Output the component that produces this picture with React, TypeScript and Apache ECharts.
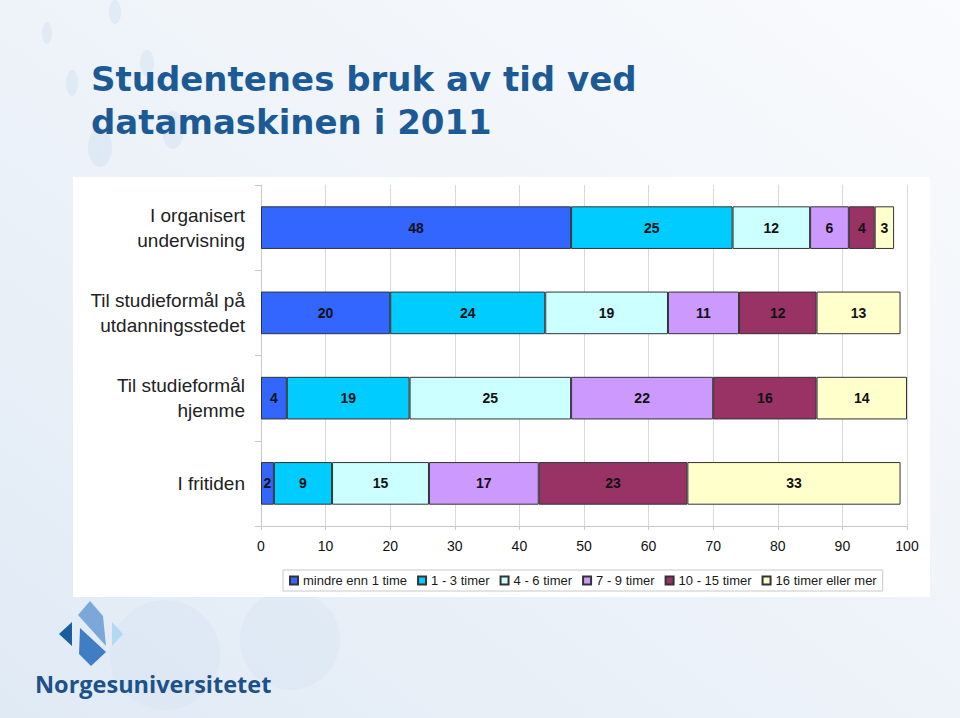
import React, { useEffect, useRef } from "react";
import * as echarts from "echarts";

const categories = [
  "I organisert\nundervisning",
  "Til studieformål på\nutdanningsstedet",
  "Til studieformål\nhjemme",
  "I fritiden",
];

const seriesNames = [
  "mindre enn 1 time",
  "1 - 3 timer",
  "4 - 6 timer",
  "7 - 9 timer",
  "10 - 15 timer",
  "16 timer eller mer",
];

const lessThan1 = [48, 20, 4, 2];
const h1to3 = [25, 24, 19, 9];
const h4to6 = [12, 19, 25, 15];
const h7to9 = [6, 11, 22, 17];
const h10to15 = [4, 12, 16, 23];
const h16plus = [3, 13, 14, 33];

const xTicks = [0, 10, 20, 30, 40, 50, 60, 70, 80, 90, 100];

const colors = ["#3366FF", "#00CCFF", "#CCFFFF", "#CC99FF", "#993366", "#FFFFCC"];

const titleText = "Studentenes bruk av tid ved\ndatamaskinen i 2011";
const logoText = "Norgesuniversitetet";

export default function App() {
  const ref = useRef<HTMLDivElement>(null);

  useEffect(() => {
    if (!ref.current) return;
    const chart = echarts.init(ref.current, null, { renderer: "svg" });
    const values = [lessThan1, h1to3, h4to6, h7to9, h10to15, h16plus];

    const bgEllipses = [
      { cx: 47, cy: 33, rx: 5, ry: 11 },
      { cx: 115, cy: 12, rx: 6, ry: 12 },
      { cx: 147, cy: 63, rx: 7, ry: 13 },
      { cx: 72, cy: 83, rx: 6, ry: 13 },
      { cx: 100, cy: 147, rx: 12, ry: 20 },
      { cx: 173, cy: 130, rx: 11, ry: 19 },
    ];

    chart.setOption({
      animation: false,
      backgroundColor: {
        type: "linear",
        x: 0,
        y: 1,
        x2: 1,
        y2: 0,
        colorStops: [
          { offset: 0, color: "#e0eaf5" },
          { offset: 0.5, color: "#eef3f9" },
          { offset: 1, color: "#f9fbfd" },
        ],
      },
      title: {
        text: titleText,
        left: 86,
        top: 52,
        textStyle: {
          fontFamily: "DejaVu Sans",
          fontWeight: "bold",
          fontSize: 34,
          lineHeight: 43,
          color: "#1c5a96",
        },
      },
      graphic: [
        ...bgEllipses.map((e) => ({
          type: "ellipse",
          z: -5,
          silent: true,
          shape: { cx: e.cx, cy: e.cy, rx: e.rx, ry: e.ry },
          style: { fill: "rgba(170,200,232,0.2)" },
        })),
        {
          type: "circle",
          z: -5,
          silent: true,
          shape: { cx: 165, cy: 655, r: 55 },
          style: { fill: "rgba(200,218,238,0.2)" },
        },
        {
          type: "circle",
          z: -5,
          silent: true,
          shape: { cx: 290, cy: 640, r: 50 },
          style: { fill: "rgba(200,218,238,0.18)" },
        },
        {
          type: "rect",
          z: -2,
          silent: true,
          shape: { x: 73, y: 177, width: 857, height: 420 },
          style: { fill: "#ffffff" },
        },
        {
          type: "polygon",
          silent: true,
          shape: { points: [[59, 634], [72, 622], [72, 646]] },
          style: { fill: "#1b5e9e" },
        },
        {
          type: "polygon",
          silent: true,
          shape: { points: [[90, 601], [103, 616], [106, 646], [78, 615]] },
          style: { fill: "#7ba8d9" },
        },
        {
          type: "polygon",
          silent: true,
          shape: { points: [[80, 628], [106, 652], [91, 666], [79, 654]] },
          style: { fill: "#3f7dc5" },
        },
        {
          type: "polygon",
          silent: true,
          shape: { points: [[112, 622], [123, 634], [112, 646]] },
          style: { fill: "#b2d9f3" },
        },
        {
          type: "text",
          silent: true,
          x: 35,
          y: 684,
          style: {
            text: logoText,
            fontFamily: "Open Sans",
            fontWeight: "bold",
            fontSize: 23.5,
            fill: "#1d5189",
            textVerticalAlign: "middle",
          },
        },
      ],
      legend: {
        left: 283,
        top: 570,
        orient: "horizontal",
        icon: "rect",
        itemWidth: 8,
        itemHeight: 8,
        itemGap: 10,
        padding: [4, 6],
        backgroundColor: "#ffffff",
        borderColor: "#c8c8c8",
        borderWidth: 1,
        borderRadius: 0,
        data: seriesNames,
        textStyle: {
          fontFamily: "Liberation Sans",
          fontSize: 13,
          color: "#1a1a1a",
        },
      },
      grid: {
        left: 261,
        right: 53,
        top: 185,
        bottom: 192,
        containLabel: false,
      },
      xAxis: {
        type: "value",
        min: 0,
        max: 100,
        interval: 10,
        axisLine: { show: true, lineStyle: { color: "#c8c8c8" } },
        axisTick: { show: true, length: 4, lineStyle: { color: "#c8c8c8" } },
        splitLine: { show: true, lineStyle: { color: "#d9d9d9" } },
        axisLabel: {
          fontFamily: "Liberation Sans",
          fontSize: 14,
          color: "#111",
          margin: 13,
          formatter: (v: number) => (xTicks.includes(v) ? String(v) : ""),
        },
      },
      yAxis: {
        type: "category",
        inverse: true,
        data: categories,
        axisLine: { show: true, lineStyle: { color: "#c8c8c8" } },
        axisTick: { show: true, length: 6, lineStyle: { color: "#c8c8c8" } },
        axisLabel: {
          fontFamily: "Liberation Sans",
          fontSize: 19,
          lineHeight: 25,
          color: "#222",
          margin: 16,
          align: "right",
        },
      },
      series: seriesNames.map((name, i) => ({
        name,
        type: "bar",
        stack: "total",
        barWidth: "50%",
        data: values[i],
        itemStyle: {
          color: colors[i],
          borderColor: "#333",
          borderWidth: 1,
        },
        label: {
          show: true,
          position: "inside",
          fontFamily: "Liberation Sans",
          fontWeight: "bold",
          fontSize: 14,
          color: "#111",
        },
      })),
    });
    return () => chart.dispose();
  }, []);

  return (
    <div
      ref={ref}
      style={{ position: "absolute", left: 0, top: 0, width: 960, height: 718 }}
    />
  );
}
